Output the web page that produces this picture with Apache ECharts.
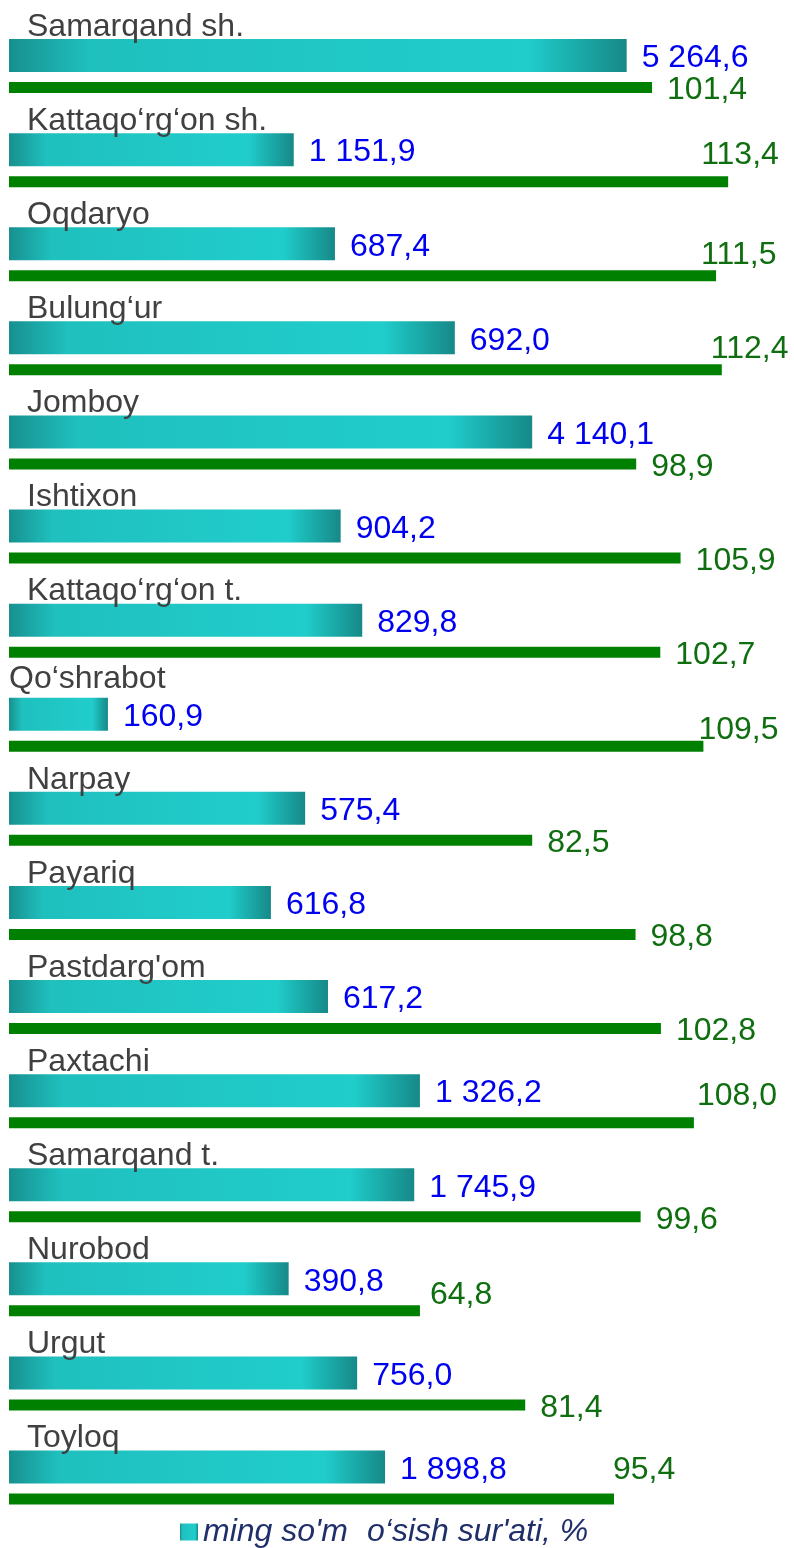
<!DOCTYPE html>
<html>
<head>
<meta charset="utf-8">
<script src="https://cdn.jsdelivr.net/npm/echarts@6/dist/echarts.min.js"></script>
<style>
  html, body { margin: 0; padding: 0; background: #ffffff; }
  #chart { width: 794px; height: 1548px; }
</style>
</head>
<body>
<div id="chart"></div>
<script>
// ---- data ----
const categories = ['Samarqand sh.', 'Kattaqo\u2018rg\u2018on sh.', 'Oqdaryo', 'Bulung\u2018ur', 'Jomboy', 'Ishtixon',
  'Kattaqo\u2018rg\u2018on t.', 'Qo\u2018shrabot', 'Narpay', 'Payariq', "Pastdarg'om", 'Paxtachi',
  'Samarqand t.', 'Nurobod', 'Urgut', 'Toyloq'];
// values printed next to the teal bars (ming so'm)
const tealValues = [5264.6, 1151.9, 687.4, 692.0, 4140.1, 904.2, 829.8, 160.9, 575.4, 616.8, 617.2, 1326.2, 1745.9, 390.8, 756.0, 1898.8];
// teal bar extents as drawn in the picture (secondary, hidden scale)
const tealBarLengths = [97.4, 44.9, 51.4, 70.3, 82.5, 52.3, 55.7, 15.6, 46.7, 41.3, 50.3, 64.8, 63.9, 44.1, 54.9, 59.3];
// growth rate, %
const growthValues = [101.4, 113.4, 111.5, 112.4, 98.9, 105.9, 102.7, 109.5, 82.5, 98.8, 102.8, 108.0, 99.6, 64.8, 81.4, 95.4];
const seriesNames = ["ming so'm", "o\u2018sish sur'ati, %"];

// ---- styling helpers ----
const FONT = "Arial, 'Liberation Sans', sans-serif";
const FS = 32;
const greenLabelShift = { 1: [-42, -29], 2: [-30, -24], 3: [-26, -24], 7: [-20, -19], 11: [-12, -29], 13: [-5, -19], 15: [-16, -32] };

function fmtThousands(v) {
  const s = v.toFixed(1).split('.');
  return s[0].replace(/\B(?=(\d{3})+(?!\d))/g, ' ') + ',' + s[1];
}

const tealGradient = new echarts.graphic.LinearGradient(0, 0, 1, 0, [
  { offset: 0, color: '#17908F' },
  { offset: 0.13, color: '#1FC0BE' },
  { offset: 0.5, color: '#20C7C5' },
  { offset: 0.84, color: '#20CDCB' },
  { offset: 0.9, color: '#1BB3B1' },
  { offset: 1, color: '#168988' }
]);

const chart = echarts.init(document.getElementById('chart'), null, { renderer: 'canvas' });

const option = {
  animation: false,
  backgroundColor: '#ffffff',
  grid: { left: 9, right: 24, top: 19, height: 1505.6, containLabel: false },
  xAxis: [
    { type: 'value', min: 0, max: 120, show: false },
    { type: 'value', min: 0, max: 120, show: false }
  ],
  yAxis: {
    type: 'category',
    data: categories,
    inverse: true,
    z: 10,
    axisLine: { show: false },
    axisTick: { show: false },
    splitLine: { show: false },
    axisLabel: {
      inside: true,
      margin: 0,
      interval: 0,
      formatter: function (val, idx) {
        return (idx === 7 ? '{b|' : '{a|') + val + '}';
      },
      rich: {
        a: { fontFamily: FONT, fontSize: FS, color: '#404040', padding: [0, 0, 78, 18] },
        b: { fontFamily: FONT, fontSize: FS, color: '#404040', padding: [0, 0, 92, 0] }
      }
    }
  },
  legend: [
    {
      data: [{ name: seriesNames[0], icon: 'rect' }],
      left: 180, top: 1516, padding: 0,
      itemWidth: 18, itemHeight: 17,
      textStyle: { fontFamily: FONT, fontSize: FS, fontStyle: 'italic', color: '#1F2F6A' },
      selectedMode: false
    },
    {
      data: [{ name: seriesNames[1], icon: 'none' }],
      left: 361, top: 1516, padding: 0,
      itemWidth: 1, itemHeight: 17,
      textStyle: { fontFamily: FONT, fontSize: FS, fontStyle: 'italic', color: '#1F2F6A' },
      selectedMode: false
    }
  ],
  series: [
    {
      name: seriesNames[0],
      type: 'bar',
      xAxisIndex: 1,
      data: tealBarLengths,
      barWidth: 33,
      itemStyle: { color: tealGradient },
      label: {
        show: true,
        position: 'right',
        distance: 15,
        offset: [0, 3],
        fontFamily: FONT,
        fontSize: FS,
        color: '#0000F0',
        formatter: function (p) { return fmtThousands(tealValues[p.dataIndex]); }
      }
    },
    {
      name: seriesNames[1],
      type: 'bar',
      xAxisIndex: 0,
      barWidth: 11,
      barGap: '30.3%',
      data: growthValues.map(function (v, i) {
        const item = { value: v };
        if (greenLabelShift[i]) item.label = { offset: [greenLabelShift[i][0], greenLabelShift[i][1] + 3] };
        return item;
      }),
      itemStyle: { color: '#008000' },
      label: {
        show: true,
        position: 'right',
        distance: 15,
        offset: [0, 3],
        fontFamily: FONT,
        fontSize: FS,
        color: '#0F6E0F',
        formatter: function (p) { return p.value.toFixed(1).replace('.', ','); }
      }
    }
  ]
};

chart.setOption(option);
</script>
</body>
</html>
